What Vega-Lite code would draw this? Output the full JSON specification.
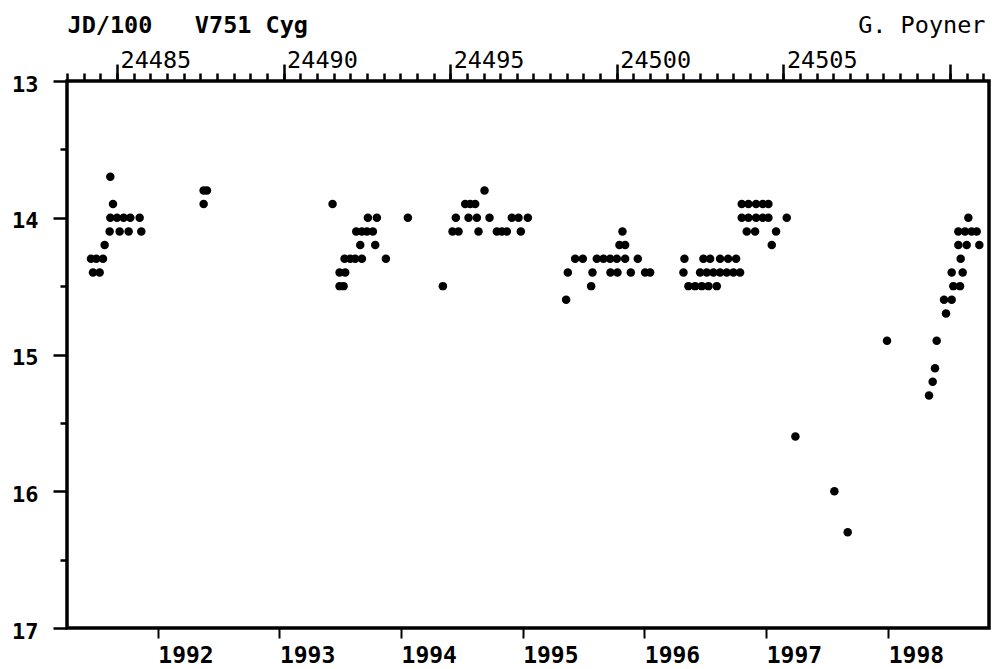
{
  "$schema": "https://vega.github.io/schema/vega-lite/v6.json",
  "width": 922,
  "height": 547,
  "autosize": {"type": "none"},
  "padding": {"left": 67, "top": 81, "right": 3, "bottom": 41},
  "background": "white",
  "config": {
    "view": {"stroke": "black", "strokeWidth": 3.5},
    "axis": {"domain": false, "grid": false, "tickColor": "black", "labelColor": "black", "titleColor": "black", "labelFont": "DejaVu Sans Mono", "titleFont": "DejaVu Sans Mono"}
  },
  "data": {"values": [
    {"jd100": 24484.80, "mag": 13.7},
    {"jd100": 24484.88, "mag": 13.9},
    {"jd100": 24484.80, "mag": 14.0},
    {"jd100": 24485.00, "mag": 14.0},
    {"jd100": 24485.20, "mag": 14.0},
    {"jd100": 24485.40, "mag": 14.0},
    {"jd100": 24485.68, "mag": 14.0},
    {"jd100": 24484.78, "mag": 14.1},
    {"jd100": 24485.08, "mag": 14.1},
    {"jd100": 24485.35, "mag": 14.1},
    {"jd100": 24485.73, "mag": 14.1},
    {"jd100": 24484.63, "mag": 14.2},
    {"jd100": 24484.22, "mag": 14.3},
    {"jd100": 24484.38, "mag": 14.3},
    {"jd100": 24484.58, "mag": 14.3},
    {"jd100": 24484.28, "mag": 14.4},
    {"jd100": 24484.48, "mag": 14.4},
    {"jd100": 24487.60, "mag": 13.8},
    {"jd100": 24487.70, "mag": 13.8},
    {"jd100": 24487.60, "mag": 13.9},
    {"jd100": 24491.47, "mag": 13.9},
    {"jd100": 24492.53, "mag": 14.0},
    {"jd100": 24492.80, "mag": 14.0},
    {"jd100": 24493.73, "mag": 14.0},
    {"jd100": 24492.18, "mag": 14.1},
    {"jd100": 24492.35, "mag": 14.1},
    {"jd100": 24492.50, "mag": 14.1},
    {"jd100": 24492.68, "mag": 14.1},
    {"jd100": 24492.30, "mag": 14.2},
    {"jd100": 24492.75, "mag": 14.2},
    {"jd100": 24491.83, "mag": 14.3},
    {"jd100": 24492.00, "mag": 14.3},
    {"jd100": 24492.15, "mag": 14.3},
    {"jd100": 24492.35, "mag": 14.3},
    {"jd100": 24493.07, "mag": 14.3},
    {"jd100": 24491.68, "mag": 14.4},
    {"jd100": 24491.85, "mag": 14.4},
    {"jd100": 24491.68, "mag": 14.5},
    {"jd100": 24491.80, "mag": 14.5},
    {"jd100": 24494.78, "mag": 14.5},
    {"jd100": 24496.03, "mag": 13.8},
    {"jd100": 24495.45, "mag": 13.9},
    {"jd100": 24495.60, "mag": 13.9},
    {"jd100": 24495.75, "mag": 13.9},
    {"jd100": 24495.17, "mag": 14.0},
    {"jd100": 24495.55, "mag": 14.0},
    {"jd100": 24495.80, "mag": 14.0},
    {"jd100": 24496.18, "mag": 14.0},
    {"jd100": 24496.85, "mag": 14.0},
    {"jd100": 24497.05, "mag": 14.0},
    {"jd100": 24497.33, "mag": 14.0},
    {"jd100": 24495.07, "mag": 14.1},
    {"jd100": 24495.25, "mag": 14.1},
    {"jd100": 24495.85, "mag": 14.1},
    {"jd100": 24496.40, "mag": 14.1},
    {"jd100": 24496.55, "mag": 14.1},
    {"jd100": 24496.70, "mag": 14.1},
    {"jd100": 24497.12, "mag": 14.1},
    {"jd100": 24498.75, "mag": 14.3},
    {"jd100": 24498.53, "mag": 14.4},
    {"jd100": 24498.48, "mag": 14.6},
    {"jd100": 24500.17, "mag": 14.1},
    {"jd100": 24500.08, "mag": 14.2},
    {"jd100": 24500.25, "mag": 14.2},
    {"jd100": 24498.98, "mag": 14.3},
    {"jd100": 24499.40, "mag": 14.3},
    {"jd100": 24499.60, "mag": 14.3},
    {"jd100": 24499.80, "mag": 14.3},
    {"jd100": 24500.00, "mag": 14.3},
    {"jd100": 24500.25, "mag": 14.3},
    {"jd100": 24500.63, "mag": 14.3},
    {"jd100": 24499.27, "mag": 14.4},
    {"jd100": 24499.81, "mag": 14.4},
    {"jd100": 24500.02, "mag": 14.4},
    {"jd100": 24500.42, "mag": 14.4},
    {"jd100": 24500.85, "mag": 14.4},
    {"jd100": 24501.00, "mag": 14.4},
    {"jd100": 24499.23, "mag": 14.5},
    {"jd100": 24502.03, "mag": 14.3},
    {"jd100": 24502.60, "mag": 14.3},
    {"jd100": 24502.80, "mag": 14.3},
    {"jd100": 24503.10, "mag": 14.3},
    {"jd100": 24503.34, "mag": 14.3},
    {"jd100": 24503.58, "mag": 14.3},
    {"jd100": 24502.00, "mag": 14.4},
    {"jd100": 24502.50, "mag": 14.4},
    {"jd100": 24502.70, "mag": 14.4},
    {"jd100": 24502.90, "mag": 14.4},
    {"jd100": 24503.10, "mag": 14.4},
    {"jd100": 24503.30, "mag": 14.4},
    {"jd100": 24503.50, "mag": 14.4},
    {"jd100": 24503.70, "mag": 14.4},
    {"jd100": 24502.15, "mag": 14.5},
    {"jd100": 24502.35, "mag": 14.5},
    {"jd100": 24502.55, "mag": 14.5},
    {"jd100": 24502.75, "mag": 14.5},
    {"jd100": 24503.00, "mag": 14.5},
    {"jd100": 24503.75, "mag": 13.9},
    {"jd100": 24503.95, "mag": 13.9},
    {"jd100": 24504.18, "mag": 13.9},
    {"jd100": 24504.38, "mag": 13.9},
    {"jd100": 24504.55, "mag": 13.9},
    {"jd100": 24503.75, "mag": 14.0},
    {"jd100": 24503.95, "mag": 14.0},
    {"jd100": 24504.18, "mag": 14.0},
    {"jd100": 24504.38, "mag": 14.0},
    {"jd100": 24504.55, "mag": 14.0},
    {"jd100": 24505.10, "mag": 14.0},
    {"jd100": 24503.90, "mag": 14.1},
    {"jd100": 24504.15, "mag": 14.1},
    {"jd100": 24504.78, "mag": 14.1},
    {"jd100": 24504.65, "mag": 14.2},
    {"jd100": 24505.36, "mag": 15.6},
    {"jd100": 24506.53, "mag": 16.0},
    {"jd100": 24506.93, "mag": 16.3},
    {"jd100": 24508.11, "mag": 14.9},
    {"jd100": 24509.37, "mag": 15.3},
    {"jd100": 24509.48, "mag": 15.2},
    {"jd100": 24509.55, "mag": 15.1},
    {"jd100": 24509.60, "mag": 14.9},
    {"jd100": 24509.88, "mag": 14.7},
    {"jd100": 24509.82, "mag": 14.6},
    {"jd100": 24510.05, "mag": 14.6},
    {"jd100": 24510.10, "mag": 14.5},
    {"jd100": 24510.30, "mag": 14.5},
    {"jd100": 24510.05, "mag": 14.4},
    {"jd100": 24510.38, "mag": 14.4},
    {"jd100": 24510.32, "mag": 14.3},
    {"jd100": 24510.25, "mag": 14.2},
    {"jd100": 24510.50, "mag": 14.2},
    {"jd100": 24510.88, "mag": 14.2},
    {"jd100": 24510.25, "mag": 14.1},
    {"jd100": 24510.45, "mag": 14.1},
    {"jd100": 24510.65, "mag": 14.1},
    {"jd100": 24510.80, "mag": 14.1},
    {"jd100": 24510.55, "mag": 14.0}
  ]},
  "layer": [
    {
      "mark": {"type": "circle", "size": 72, "color": "black", "opacity": 1},
      "encoding": {
        "x": {
          "field": "jd100", "type": "quantitative",
          "scale": {"domain": [24483.5, 24511.17], "nice": false, "zero": false},
          "axis": {
            "orient": "top",
            "values": [24485, 24490, 24495, 24500, 24505, 24510],
            "format": "d",
            "labelExpr": "datum.value > 24509 ? '' : datum.label",
            "tickSize": 17, "tickWidth": 2.5,
            "labelAlign": "left", "labelBaseline": "alphabetic",
            "labelPadding": -3.3, "labelOffset": 3,
            "labelFontSize": 23.5, "labelFlush": false, "labelOverlap": false,
            "title": "JD/100\u00a0\u00a0\u00a0V751 Cyg",
            "titleX": 0, "titleY": -49, "titleAlign": "left", "titleAnchor": "start",
            "titleBaseline": "alphabetic", "titleFontSize": 23.5, "titleFontWeight": "bold", "titleAngle": 0
          }
        },
        "y": {
          "field": "mag", "type": "quantitative",
          "scale": {"domain": [13, 17], "reverse": true, "nice": false, "zero": false},
          "axis": {
            "orient": "left",
            "values": [13, 14, 15, 16, 17],
            "tickSize": 14, "tickWidth": 2.5,
            "labelPadding": 15, "labelFontSize": 22, "labelFontWeight": "bold",
            "labelOffset": 3, "labelFlush": false, "labelOverlap": false,
            "title": null
          }
        }
      }
    },
    {
      "mark": {"type": "circle", "size": 72, "color": "black", "opacity": 0},
      "encoding": {
        "x": {
          "field": "jd100", "type": "quantitative",
          "scale": {"domain": [24483.5, 24511.17], "nice": false, "zero": false},
          "axis": {
            "orient": "top",
            "values": [24483.5, 24484, 24484.5, 24485, 24485.5, 24486, 24486.5, 24487, 24487.5, 24488, 24488.5, 24489, 24489.5, 24490, 24490.5, 24491, 24491.5, 24492, 24492.5, 24493, 24493.5, 24494, 24494.5, 24495, 24495.5, 24496, 24496.5, 24497, 24497.5, 24498, 24498.5, 24499, 24499.5, 24500, 24500.5, 24501, 24501.5, 24502, 24502.5, 24503, 24503.5, 24504, 24504.5, 24505, 24505.5, 24506, 24506.5, 24507, 24507.5, 24508, 24508.5, 24509, 24509.5, 24510, 24510.5, 24511],
            "tickSize": 8, "tickWidth": 2.5, "labels": false,
            "title": "G. Poyner",
            "titleX": 918, "titleY": -49, "titleAlign": "right", "titleAnchor": "end",
            "titleBaseline": "alphabetic", "titleFontSize": 23.5, "titleFontWeight": "normal", "titleAngle": 0
          }
        },
        "y": {
          "field": "mag", "type": "quantitative",
          "scale": {"domain": [13, 17], "reverse": true, "nice": false, "zero": false},
          "axis": {
            "orient": "left",
            "values": [13.5, 14.5, 15.5, 16.5],
            "tickSize": 7, "tickWidth": 2.5, "labels": false, "title": null
          }
        }
      }
    },
    {
      "mark": {"type": "circle", "size": 72, "color": "black", "opacity": 0},
      "encoding": {
        "x": {
          "field": "jd100", "type": "quantitative",
          "scale": {"domain": [24483.5, 24511.17], "nice": false, "zero": false},
          "axis": {
            "orient": "bottom",
            "values": [24486.225, 24489.875, 24493.525, 24497.175, 24500.825, 24504.485, 24508.145],
            "labelExpr": "'' + (1992 + round((datum.value - 24486.225) / 3.6525))",
            "tickSize": 10, "tickWidth": 2,
            "labelAlign": "left", "labelBaseline": "top",
            "labelPadding": 6, "labelOffset": 0,
            "labelFontSize": 23, "labelFontWeight": "bold",
            "labelFlush": false, "labelOverlap": false,
            "title": null
          }
        },
        "y": {
          "field": "mag", "type": "quantitative",
          "scale": {"domain": [13, 17], "reverse": true, "nice": false, "zero": false},
          "axis": null
        }
      }
    }
  ],
  "resolve": {"axis": {"x": "independent", "y": "independent"}}
}
